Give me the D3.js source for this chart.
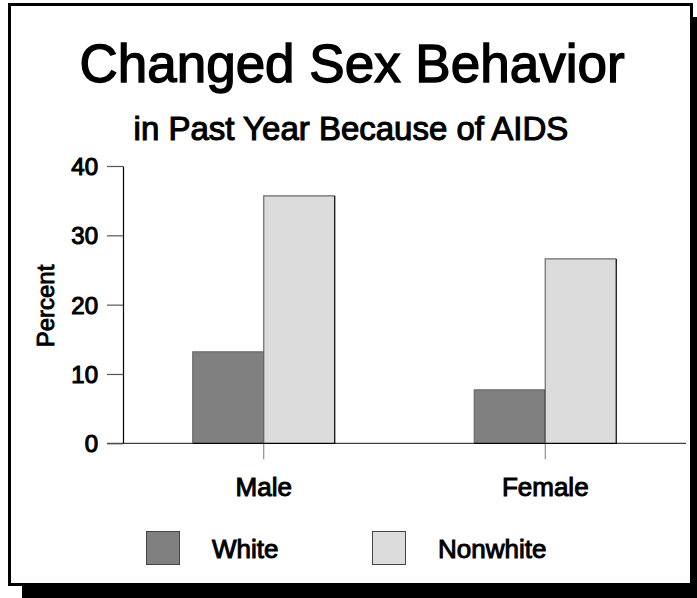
<!DOCTYPE html>
<html>
<head>
<meta charset="utf-8">
<script src="https://cdn.jsdelivr.net/npm/d3@7"></script>
<style>
  body { margin: 0; background: #fff; }
  text { font-family: "Liberation Sans", Arial, sans-serif; fill: #000; }
</style>
</head>
<body>
<div id="chart"></div>
<script>
var svgWidth = 697;
var svgHeight = 598;

// data
var groups = ["Male", "Female"];
var seriesNames = ["White", "Nonwhite"];
var whiteValues = [13.2, 7.7];
var nonwhiteValues = [35.7, 26.6];
var yTicks = [0, 10, 20, 30, 40];

var colors = { "White": "#808080", "Nonwhite": "#dcdcdc" };

var svg = d3.select("#chart")
    .append("svg")
    .attr("width", svgWidth)
    .attr("height", svgHeight);

// frame with drop shadow
svg.append("rect")
    .attr("x", 22).attr("y", 17)
    .attr("width", 685).attr("height", 583)
    .attr("fill", "#000");
svg.append("rect")
    .attr("x", 9.5).attr("y", 4.5)
    .attr("width", 682).attr("height", 580)
    .attr("fill", "#fff")
    .attr("stroke", "#000")
    .attr("stroke-width", 3);

// titles
svg.append("text")
    .attr("x", 352).attr("y", 82)
    .attr("text-anchor", "middle")
    .style("font-size", "53px")
    .style("stroke", "#000").style("stroke-width", 1.4)
    .text("Changed Sex Behavior");

svg.append("text")
    .attr("x", 351).attr("y", 140)
    .attr("text-anchor", "middle")
    .style("font-size", "33px")
    .style("stroke", "#000").style("stroke-width", 1.1)
    .text("in Past Year Because of AIDS");

var xScale = d3.scaleBand()
    .domain(groups)
    .range([123, 686]);

var yScale = d3.scaleLinear()
    .domain([0, 40])
    .range([443.3, 166]);

var barW = 71;

var data = [];
groups.forEach(function(g, i){
    data.push({group: g, series: "White", value: whiteValues[i]});
    data.push({group: g, series: "Nonwhite", value: nonwhiteValues[i]});
});

function barX(d){
    var c = xScale(d.group) + xScale.bandwidth() / 2;
    return d.series == "White" ? c - barW : c;
}

// baseline
svg.append("line")
    .attr("x1", 107).attr("x2", 686)
    .attr("y1", yScale(0)).attr("y2", yScale(0))
    .attr("stroke", "#444").attr("stroke-width", 1.2);

// category ticks
var bottomAxis = d3.axisBottom(xScale).tickSize(16).tickSizeOuter(0);
var xAxis = svg.append("g")
    .attr("transform", `translate(0,${yScale(0)})`)
    .call(bottomAxis);
xAxis.select(".domain").remove();
xAxis.selectAll(".tick line").attr("stroke", "#777");
xAxis.selectAll(".tick text")
    .attr("y", 53)
    .attr("dy", null)
    .style("font-size", "26px")
    .style("font-family", "\"Liberation Sans\", Arial, sans-serif")
    .style("stroke", "#000").style("stroke-width", 1);

// bars
var bars = svg.selectAll(".bar")
    .data(data)
    .enter()
    .append("g")
    .attr("class", "bar");

bars.append("rect")
    .attr("x", d => barX(d))
    .attr("y", d => yScale(d.value))
    .attr("width", barW)
    .attr("height", d => yScale(0) - yScale(d.value))
    .attr("fill", d => colors[d.series]);

// left and top edges grey, right and bottom black
bars.append("path")
    .attr("d", d => `M${barX(d)},${yScale(0)}V${yScale(d.value)}H${barX(d) + barW}`)
    .attr("fill", "none")
    .attr("stroke", "#6a6a6a")
    .attr("stroke-width", 1.2);
bars.append("path")
    .attr("d", d => `M${barX(d) + barW},${yScale(d.value)}V${yScale(0)}H${barX(d)}`)
    .attr("fill", "none")
    .attr("stroke", "#000")
    .attr("stroke-width", 1.2);

// y axis
var leftAxis = d3.axisLeft(yScale)
    .tickValues(yTicks)
    .tickSize(16)
    .tickSizeOuter(0)
    .tickPadding(9);
var yAxis = svg.append("g")
    .attr("transform", "translate(123,0)")
    .call(leftAxis);
yAxis.select(".domain").attr("stroke", "#000").attr("stroke-width", 1.2);
yAxis.selectAll(".tick line").attr("stroke", "#555").attr("stroke-width", 1.2);
yAxis.selectAll(".tick text")
    .attr("dy", "0.36em")
    .style("font-size", "24px")
    .style("font-family", "\"Liberation Sans\", Arial, sans-serif")
    .style("stroke", "#000").style("stroke-width", 1.1);

svg.append("text")
    .attr("transform", "translate(54,306) rotate(-90)")
    .attr("text-anchor", "middle")
    .style("font-size", "24px")
    .style("stroke", "#000").style("stroke-width", 0.9)
    .text("Percent");

// legend
var legend = svg.selectAll(".legend")
    .data(seriesNames)
    .enter()
    .append("g")
    .attr("class", "legend")
    .attr("transform", (d, i) => `translate(${146 + i * 226},531)`);

legend.append("rect")
    .attr("x", 0.5).attr("y", 0.5)
    .attr("width", 33).attr("height", 33)
    .attr("fill", d => colors[d])
    .attr("stroke", "#444");

legend.append("text")
    .attr("x", 66).attr("y", 27)
    .style("font-size", "26px")
    .style("stroke", "#000").style("stroke-width", 1)
    .text(d => d);
</script>
</body>
</html>
